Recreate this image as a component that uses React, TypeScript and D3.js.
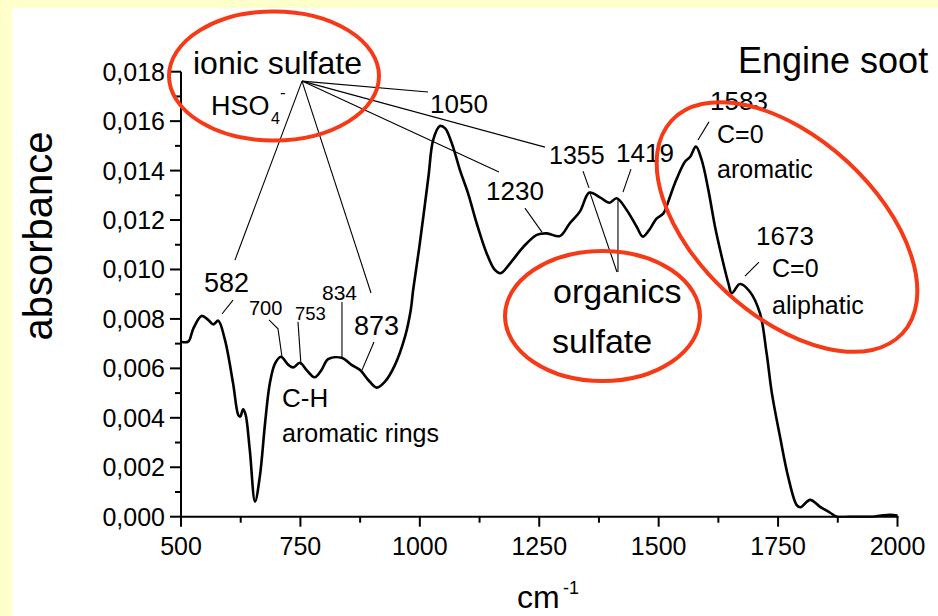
import React from "react";
import * as d3 from "d3";

// ---- data ----
const wavenumber = [
  500, 515, 526, 543, 557, 568, 578, 592, 609, 620, 624, 630, 635, 644, 655, 665, 676, 686, 697, 709,
  725, 735, 749, 763, 780, 794, 808, 836, 857, 875, 892, 910, 927, 948, 969, 981, 986, 1000, 1018, 1028,
  1042, 1053, 1067, 1084, 1101, 1119, 1140, 1157, 1169, 1189, 1217, 1245, 1266, 1293, 1314, 1335, 1355,
  1377, 1397, 1412, 1433, 1454, 1467, 1482, 1495, 1510, 1520, 1534, 1555, 1566, 1578, 1590, 1604, 1618,
  1632, 1646, 1653, 1670, 1691, 1712, 1726, 1737, 1754, 1771, 1789, 1797, 1817, 1838, 1859, 1873, 1900,
  1950, 1970, 1985, 2000,
];
const absorbance = [
  0.00708, 0.00708, 0.00762, 0.00812, 0.00796, 0.00778, 0.00793, 0.00715, 0.0054, 0.00411, 0.00405,
  0.00434, 0.00415, 0.0027, 0.00061, 0.00162, 0.00378, 0.0054, 0.0062, 0.00647, 0.00614, 0.00604,
  0.00623, 0.00593, 0.00564, 0.00593, 0.00637, 0.00643, 0.00614, 0.00593, 0.00553, 0.00522, 0.00546,
  0.00614, 0.00728, 0.00836, 0.00917, 0.01106, 0.01375, 0.01524, 0.0158, 0.01571, 0.0151, 0.01402,
  0.01308, 0.01187, 0.01065, 0.00998, 0.00985, 0.01025, 0.01092, 0.0114, 0.01146, 0.01135, 0.01187,
  0.01234, 0.01311, 0.01292, 0.0127, 0.01288, 0.01241, 0.01173, 0.01133, 0.01165, 0.01205, 0.01227,
  0.01274, 0.01349, 0.01436, 0.01456, 0.01497, 0.01443, 0.01322, 0.01173, 0.01052, 0.00944, 0.00904,
  0.00941, 0.0091, 0.00823, 0.00661, 0.005, 0.00324, 0.00162, 0.00047, 0.00038, 0.00068, 0.0004,
  0.00016, 0, 0, 0, 0.00006, 0.00008, 0.00005,
];
const xMajorTicks = [500, 750, 1000, 1250, 1500, 1750, 2000];
const xMinorTicks = [625, 875, 1125, 1375, 1625, 1875];
const yMajorTicks = [0, 0.002, 0.004, 0.006, 0.008, 0.01, 0.012, 0.014, 0.016, 0.018];
const yMinorTicks = [0.001, 0.003, 0.005, 0.007, 0.009, 0.011, 0.013, 0.015, 0.017];

// callout lines, in data units [wavenumber, absorbance]
const apex: [number, number] = [753.3, 0.01762];
const fanEnds: [number, number][] = [
  [613.0, 0.01038],
  [897.8, 0.00905],
  [1017.1, 0.01718],
  [1262.0, 0.01495],
  [1165.7, 0.01394],
];
const pointers: [number, number][][] = [
  [[608.9, 0.00876], [585.8, 0.0082]],
  [[684.2, 0.00796], [703.1, 0.0076], [711.4, 0.00647]],
  [[744.9, 0.00788], [751.2, 0.00614]],
  [[837.0, 0.00868], [837.0, 0.00646]],
  [[904.0, 0.00707], [878.9, 0.00593]],
  [[1220.1, 0.01248], [1255.7, 0.01151]],
  [[1341.6, 0.01398], [1354.1, 0.0133]],
  [[1442.0, 0.01406], [1425.3, 0.01313]],
  [[1412.7, 0.0099], [1356.2, 0.0131]],
  [[1414.8, 0.0099], [1414.8, 0.01285]],
  [[1605.3, 0.01597], [1582.3, 0.01524]],
  [[1710.0, 0.0103], [1680.7, 0.00973]],
];

const W = 938;
const H = 616;
const FONT = "'Liberation Sans', Arial, Helvetica, sans-serif";
const RED = "#f63a17";

export default function App() {
  const x = d3.scaleLinear().domain([500, 2000]).range([181, 897.5]);
  const y = d3.scaleLinear().domain([0, 0.018]).range([516.7, 71.7]);

  const pts = wavenumber.map((w, i) => [w, absorbance[i]] as [number, number]);
  const line = d3
    .line<[number, number]>()
    .x((d) => x(d[0]))
    .y((d) => y(d[1]))
    .curve(d3.curveCatmullRom.alpha(0.5));
  const pline = d3
    .line<[number, number]>()
    .x((d) => x(d[0]))
    .y((d) => y(d[1]));

  const fmt = (v: number) => v.toFixed(3).replace(".", ",");

  const t = (
    s: string,
    xx: number,
    yy: number,
    size: number,
    extra: any = {}
  ) => (
    <text x={xx} y={yy} fontSize={size} fontFamily={FONT} fill="#000" {...extra}>
      {s}
    </text>
  );

  return (
    <svg
      width={W}
      height={H}
      style={{ position: "absolute", left: 0, top: 0, display: "block" }}
    >
      <rect x={0} y={0} width={W} height={H} fill="#ffffcc" />
      <rect x={12} y={8} width={W - 12} height={H - 8} fill="#ffffff" />

      <defs>
        <clipPath id="plotclip">
          <rect x={181} y={60} width={720} height={457.7} />
        </clipPath>
      </defs>

      {/* axes */}
      <g stroke="#000" strokeWidth={2}>
        <line x1={181} x2={181} y1={y(0.018)} y2={y(0) + 1} />
        <line x1={180} x2={x(2000) + 1} y1={y(0)} y2={y(0)} />
        {yMajorTicks.map((v) => (
          <line key={"ym" + v} x1={170} x2={181} y1={y(v)} y2={y(v)} />
        ))}
        {yMinorTicks.map((v) => (
          <line key={"yn" + v} x1={175} x2={181} y1={y(v)} y2={y(v)} />
        ))}
        {xMajorTicks.map((v) => (
          <line key={"xm" + v} x1={x(v)} x2={x(v)} y1={y(0)} y2={y(0) + 10} />
        ))}
        {xMinorTicks.map((v) => (
          <line key={"xn" + v} x1={x(v)} x2={x(v)} y1={y(0)} y2={y(0) + 6} />
        ))}
      </g>
      {yMajorTicks.map((v) => (
        <text
          key={"yl" + v}
          x={165}
          y={y(v) + 9}
          fontSize={25}
          fontFamily={FONT}
          textAnchor="end"
        >
          {fmt(v)}
        </text>
      ))}
      {xMajorTicks.map((v) => (
        <text
          key={"xl" + v}
          x={x(v)}
          y={555}
          fontSize={25}
          fontFamily={FONT}
          textAnchor="middle"
        >
          {v}
        </text>
      ))}

      {/* axis titles */}
      <text
        transform="translate(52,236) rotate(-90)"
        fontSize={40}
        fontFamily={FONT}
        textAnchor="middle"
      >
        absorbance
      </text>
      {t("cm", 517, 608, 32)}
      {t("-1", 563, 594, 18)}

      {/* spectrum */}
      <path
        d={line(pts) || ""}
        fill="none"
        stroke="#000"
        strokeWidth={2.6}
        strokeLinejoin="round"
        clipPath="url(#plotclip)"
      />

      {/* callout lines */}
      <g stroke="#000" strokeWidth={1.1} fill="none">
        {fanEnds.map((e, i) => (
          <line key={"f" + i} x1={x(apex[0])} y1={y(apex[1])} x2={x(e[0])} y2={y(e[1])} />
        ))}
        {pointers.map((p, i) => (
          <path key={"p" + i} d={pline(p) || ""} />
        ))}
      </g>

      {/* labels */}
      {t("ionic sulfate", 193, 74, 32)}
      {t("HSO", 211, 115, 27)}
      {t("4", 271, 124, 16)}
      {t("-", 280, 98, 17)}
      {t("1050", 430, 113, 26)}
      {t("1230", 486, 200, 26)}
      {t("1355", 549, 164, 25)}
      {t("1419", 616, 162, 26)}
      {t("1583", 710, 110, 26)}
      {t("C=0", 717, 143, 25)}
      {t("aromatic", 717, 178, 25)}
      {t("Engine soot", 738, 73, 36)}
      {t("1673", 756, 245, 26)}
      {t("C=0", 772, 277, 25)}
      {t("aliphatic", 772, 314, 25)}
      {t("organics", 553, 303, 34)}
      {t("sulfate", 552, 353, 34)}
      {t("582", 204, 292, 27)}
      {t("700", 249, 315, 20)}
      {t("753", 295, 320, 18.5)}
      {t("834", 322, 300, 21)}
      {t("873", 354, 335, 27)}
      {t("C-H", 282, 407, 26)}
      {t("aromatic rings", 282, 442, 25)}

      {/* red ellipses */}
      <g fill="none" stroke={RED} strokeWidth={4}>
        <ellipse cx={274} cy={76} rx={105} ry={64.5} />
        <ellipse cx={602.5} cy={316} rx={97.5} ry={65} />
        <ellipse cx={787} cy={227} rx={157} ry={89} transform="rotate(42.6 787 227)" />
      </g>
    </svg>
  );
}
